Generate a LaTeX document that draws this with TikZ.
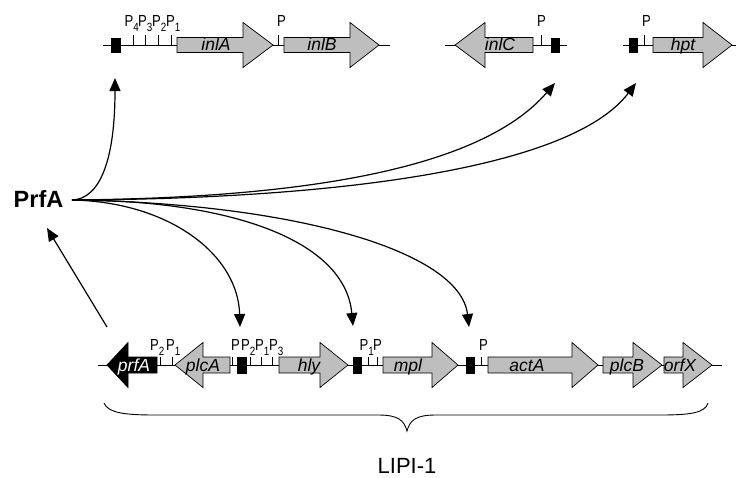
\documentclass[tikz,border=0pt]{standalone}
\usepackage{fontspec}
\setmainfont{Liberation Sans}
\setsansfont{Liberation Sans}
\newfontfamily\pfont[FakeStretch=0.82]{Liberation Sans}
\usetikzlibrary{arrows.meta}
\definecolor{genegray}{RGB}{190,190,190}
\tikzset{
  geneline/.style={draw=black, line width=0.7pt, line join=miter},
  backbone/.style={line width=0.9pt},
  promtick/.style={line width=0.8pt},
  regbox/.style={fill=black, draw=black, line width=0.4pt},
  genelabel/.style={font=\fontsize{17.5}{17.5}\selectfont\itshape, anchor=base, inner sep=0pt},
  plabel/.style={font=\pfont\fontsize{16}{16}\selectfont, anchor=base west, inner sep=0pt},
  reg/.style={line width=1.2pt, -{Triangle[length=13pt,width=11pt]}},
  bracestyle/.style={line width=0.9pt}
}
% y, tail, base, tip, shaft half height, head half height, fill
\newcommand\genearrow[7]{%
  \draw[geneline,fill=#7] (#2,{#1-#5}) -- (#3,{#1-#5}) -- (#3,{#1-#6}) -- (#4,#1)
    -- (#3,{#1+#6}) -- (#3,{#1+#5}) -- (#2,{#1+#5}) -- cycle;}
\newcommand\Pn[1]{P\raisebox{-0.34em}{\fontsize{12}{12}\selectfont #1}}
\begin{document}
\begin{tikzpicture}[x=1pt,y=-1pt]
\useasboundingbox (0,0) rectangle (736,477);

% ---------- top row (y = 45) ----------
\draw[backbone] (103,45) -- (390,45);
\draw[backbone] (445,45) -- (567,45);
\draw[backbone] (623,45) -- (736,45);
\foreach \x in {133,145,158,171,278,541,644} \draw[promtick] (\x,35) -- (\x,45);
\draw[regbox] (111,38) rectangle (120,52);
\draw[regbox] (551,38) rectangle (559,52);
\draw[regbox] (629,38) rectangle (637,52);
\genearrow{45}{177}{243}{273}{7.5}{22.5}{genegray}
\genearrow{45}{284}{350}{379}{7.5}{22.5}{genegray}
\genearrow{45}{533}{485}{455}{7.5}{22.5}{genegray}
\genearrow{45}{653}{703}{732}{7.5}{22.5}{genegray}
\node[genelabel] (l-inlA) at (216,50.5) {inlA};
\node[genelabel] (l-inlB) at (322,50.5) {inlB};
\node[genelabel] (l-inlC) at (500,50.5) {inlC};
\node[genelabel] (l-hpt)  at (683,50.5) {hpt};
\node[plabel] (p-a4) at (124.5,26) {\Pn{4}};
\node[plabel] (p-a3) at (138,26) {\Pn{3}};
\node[plabel] (p-a2) at (152,26) {\Pn{2}};
\node[plabel] (p-a1) at (166,26) {\Pn{1}};
\node[plabel] (p-b)  at (277,26) {P};
\node[plabel] (p-c)  at (537,26) {P};
\node[plabel] (p-h)  at (642,26) {P};

% ---------- bottom row (y = 365) ----------
\draw[backbone] (98,365) -- (722,365);
\foreach \x in {160,172,232,250,261,272,368,377,481} \draw[promtick] (\x,357) -- (\x,365);
\draw[regbox] (237,357) rectangle (246,373);
\draw[regbox] (353,357) rectangle (361,373);
\draw[regbox] (466,357) rectangle (474,373);
\genearrow{365}{157}{128}{107}{8}{22.5}{black}
\genearrow{365}{230}{203}{175}{8}{22.5}{genegray}
\genearrow{365}{279}{320}{348}{8}{22.5}{genegray}
\genearrow{365}{383}{432}{458}{8}{22.5}{genegray}
\genearrow{365}{488}{572}{598}{8}{22.5}{genegray}
\genearrow{365}{603}{633}{662}{8}{22.5}{genegray}
\genearrow{365}{664}{683}{712}{8}{22.5}{genegray}
\node[genelabel,text=white] (l-prfA) at (134,371.5) {prfA};
\node[genelabel] (l-plcA) at (203,371.5) {plcA};
\node[genelabel] (l-hly)  at (309,371.5) {hly};
\node[genelabel] (l-mpl)  at (408,371.5) {mpl};
\node[genelabel] (l-actA) at (527,371.5) {actA};
\node[genelabel] (l-plcB) at (627,371.5) {plcB};
\node[genelabel] (l-orfX) at (680,371.5) {orfX};
\node[plabel] (p-f2) at (150,350) {\Pn{2}};
\node[plabel] (p-f1) at (166,350) {\Pn{1}};
\node[plabel] (p-h0) at (231,350) {P};
\node[plabel] (p-h2) at (241,350) {\Pn{2}};
\node[plabel] (p-h1) at (255,350) {\Pn{1}};
\node[plabel] (p-h3) at (269,350) {\Pn{3}};
\node[plabel] (p-m1) at (359.5,350) {\Pn{1}};
\node[plabel] (p-m0) at (373,350) {P};
\node[plabel] (p-a0) at (479,350) {P};

% ---------- PrfA and regulation ----------
\node[font=\fontsize{23.5}{23.5}\selectfont\bfseries, inner sep=0pt] (prfa) at (38.5,199) {PrfA};
\coordinate (src) at (72,200);
\coordinate (t-inlA) at (115,78);
\coordinate (t-inlC) at (555,83);
\coordinate (t-hpt)  at (636,83);
\coordinate (t-plcA) at (240,327);
\coordinate (t-mpl)  at (353,326);
\coordinate (t-actA) at (469,327);
\coordinate (fb) at (107,327);
\coordinate (fbtip) at (47,228);

\draw[reg] (src) .. controls (100,199) and (115,160) .. (t-inlA);
\draw[reg] (src) .. controls (300,198) and (480,170) .. (t-inlC);
\draw[reg] (src) .. controls (330,199) and (570,170) .. (t-hpt);
\draw[reg] (src) .. controls (170,202) and (238,255) .. (t-plcA);
\draw[reg] (src) .. controls (230,200) and (345,240) .. (t-mpl);
\draw[reg] (src) .. controls (290,203) and (460,250) .. (t-actA);
\draw[reg] (fb) -- (fbtip);

% ---------- LIPI-1 brace ----------
\draw[bracestyle] (104,403) .. controls (108,413) and (125,415) .. (155,415) -- (378,415)
  .. controls (398,415) and (404,420) .. (407,431)
  .. controls (410,420) and (416,415) .. (436,415) -- (660,415)
  .. controls (690,415) and (705,413) .. (708,403);
\node[font=\fontsize{22}{22}\selectfont, inner sep=0pt] (lipi) at (407,466) {LIPI-1};
\end{tikzpicture}
\end{document}
